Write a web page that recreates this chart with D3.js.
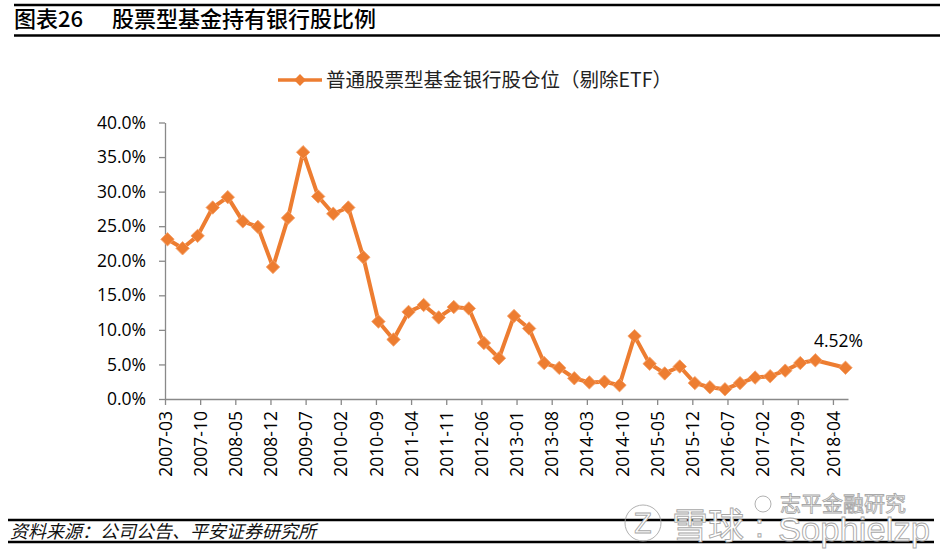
<!DOCTYPE html>
<html>
<head>
<meta charset="utf-8">
<script src="https://cdn.jsdelivr.net/npm/d3@7"></script>
<style>
  body { margin: 0; background: #fff; }
  svg { display: block; }
</style>
</head>
<body>
<div id="chart"></div>
<script>
// size of the page
var width = 952;
var height = 549;

// quarterly dates (2018-03 is missing in the source)
const quarters = [
  "2007-03", "2007-06", "2007-09", "2007-12",
  "2008-03", "2008-06", "2008-09", "2008-12",
  "2009-03", "2009-06", "2009-09", "2009-12",
  "2010-03", "2010-06", "2010-09", "2010-12",
  "2011-03", "2011-06", "2011-09", "2011-12",
  "2012-03", "2012-06", "2012-09", "2012-12",
  "2013-03", "2013-06", "2013-09", "2013-12",
  "2014-03", "2014-06", "2014-09", "2014-12",
  "2015-03", "2015-06", "2015-09", "2015-12",
  "2016-03", "2016-06", "2016-09", "2016-12",
  "2017-03", "2017-06", "2017-09", "2017-12",
  "2018-06"
];

// bank stock weight, percent
const shares = [
  23.1, 21.8, 23.6, 27.7,
  29.2, 25.7, 24.9, 19.1,
  26.2, 35.7, 29.3, 26.8,
  27.7, 20.5, 11.2, 8.6,
  12.6, 13.6, 11.8, 13.3,
  13.1, 8.1, 5.9, 12.0,
  10.2, 5.2, 4.5, 3.0,
  2.4, 2.5, 2.0, 9.1,
  5.1, 3.7, 4.7, 2.3,
  1.7, 1.4, 2.3, 3.1,
  3.3, 4.1, 5.2, 5.6,
  4.52
];

const xTickLabels = [
  "2007-03", "2007-10", "2008-05", "2008-12", "2009-07", "2010-02", "2010-09",
  "2011-04", "2011-11", "2012-06", "2013-01", "2013-08", "2014-03", "2014-10",
  "2015-05", "2015-12", "2016-07", "2017-02", "2017-09", "2018-04"
];
const yTicks = [0, 5, 10, 15, 20, 25, 30, 35, 40];

const seriesName = "普通股票型基金银行股仓位（剔除ETF）";
const lastLabel = "4.52%";

const orange = "#ED7D31";
const axisGrey = "#898989";
const numFont = "'Open Sans', 'Liberation Sans', sans-serif";
const cjkFont = "'Noto Sans CJK SC', sans-serif";

// months since 2007-03 (excel date axis, base unit month)
function monthIndex(s) {
  let parts = s.split("-");
  return (+parts[0] - 2007) * 12 + (+parts[1] - 3);
}

let data = quarters.map((q, i) => ({ date: q, value: shares[i] }));

let svg = d3.select("#chart")
  .append("svg")
  .attr("width", width)
  .attr("height", height);

// header and footer rules
svg.append("line").attr("x1", 14).attr("x2", 940).attr("y1", 5).attr("y2", 5)
  .attr("stroke", "#000").attr("stroke-width", 2.5);
svg.append("line").attr("x1", 14).attr("x2", 940).attr("y1", 35.5).attr("y2", 35.5)
  .attr("stroke", "#000").attr("stroke-width", 2.5);
svg.append("line").attr("x1", 8).attr("x2", 934).attr("y1", 520).attr("y2", 520)
  .attr("stroke", "#000").attr("stroke-width", 2.5);
svg.append("line").attr("x1", 8).attr("x2", 934).attr("y1", 542).attr("y2", 542)
  .attr("stroke", "#000").attr("stroke-width", 2.5);

// title
svg.append("text")
  .attr("x", 14).attr("y", 27)
  .style("font-family", cjkFont).style("font-size", "22px").style("font-weight", 500)
  .text("图表26");
svg.append("text")
  .attr("x", 112).attr("y", 27)
  .style("font-family", cjkFont).style("font-size", "22px").style("font-weight", 500)
  .text("股票型基金持有银行股比例");

// scales
let x = d3.scaleLinear().domain([0, 136]).range([165, 848]);
let y = d3.scaleLinear().domain([0, 40]).range([399, 122.5]);

// y axis
let yAxis = svg.append("g")
  .attr("transform", "translate(165,0)")
  .call(d3.axisLeft(y).tickValues(yTicks).tickSize(6).tickSizeOuter(0)
    .tickFormat(d => d.toFixed(1) + "%").tickPadding(13));
yAxis.select(".domain").attr("stroke", axisGrey).attr("stroke-width", 1.3);
yAxis.selectAll(".tick line").attr("stroke", axisGrey).attr("stroke-width", 1.3);
yAxis.selectAll("text")
  .style("font-family", numFont).style("font-size", "17.5px").attr("fill", "#000");

// x axis
let xAxis = svg.append("g")
  .attr("transform", "translate(0," + y(0) + ")")
  .call(d3.axisBottom(x).tickValues(xTickLabels.map(monthIndex)).tickSize(6).tickSizeOuter(0)
    .tickFormat((d, i) => xTickLabels[i]));
xAxis.select(".domain").attr("stroke", axisGrey).attr("stroke-width", 1.3);
xAxis.selectAll(".tick line").attr("stroke", axisGrey).attr("stroke-width", 1.3);
xAxis.selectAll("text")
  .attr("transform", "rotate(-90)")
  .attr("x", -12).attr("y", 0).attr("dy", "0.35em")
  .style("text-anchor", "end")
  .style("font-family", numFont).style("font-size", "17.5px").attr("fill", "#000");

// line
let line = d3.line()
  .x(d => x(monthIndex(d.date) + 0.5))
  .y(d => y(d.value));

svg.append("path")
  .datum(data)
  .attr("fill", "none")
  .attr("stroke", orange)
  .attr("stroke-width", 4)
  .attr("stroke-linejoin", "round")
  .attr("d", line);

// diamond markers
let diamond = d3.symbol().type(d3.symbolSquare).size(90);
svg.selectAll(".marker")
  .data(data)
  .enter()
  .append("path")
  .attr("class", "marker")
  .attr("d", diamond)
  .attr("transform", d => "translate(" + x(monthIndex(d.date) + 0.5) + "," + y(d.value) + ") rotate(45)")
  .attr("fill", orange)
  .attr("stroke", "#F4A06A")
  .attr("stroke-width", 0.8);

// label of last point
let last = data[data.length - 1];
svg.append("text")
  .attr("x", x(monthIndex(last.date) + 0.5) - 7)
  .attr("y", y(last.value) - 21)
  .attr("text-anchor", "middle")
  .style("font-family", numFont).style("font-size", "17.5px")
  .text(lastLabel);

// legend
svg.append("line").attr("x1", 278).attr("x2", 322).attr("y1", 80).attr("y2", 80)
  .attr("stroke", orange).attr("stroke-width", 3.5);
svg.append("path")
  .attr("d", d3.symbol().type(d3.symbolSquare).size(70))
  .attr("transform", "translate(300,80) rotate(45)")
  .attr("fill", orange);
svg.append("text")
  .attr("x", 326).attr("y", 87)
  .style("font-family", cjkFont).style("font-size", "19.5px")
  .attr("fill", "#222")
  .text(seriesName);

// source note
svg.append("text")
  .attr("x", 10).attr("y", 538)
  .style("font-family", cjkFont).style("font-size", "18px")
  .style("font-style", "italic")
  .attr("fill", "#111")
  .text("资料来源：公司公告、平安证券研究所");

// watermark
let wm = svg.append("g")
  .attr("fill", "#fff")
  .attr("stroke", "#a8a8a8")
  .attr("stroke-width", 0.9);
wm.append("circle").attr("cx", 643).attr("cy", 523).attr("r", 18).attr("fill", "none");
wm.append("text").attr("x", 643).attr("y", 533).attr("text-anchor", "middle")
  .style("font-family", "'DejaVu Sans', sans-serif").style("font-size", "26px").text("Z");
wm.append("text").attr("x", 672).attr("y", 539)
  .style("font-family", cjkFont).style("font-size", "36px").text("雪球");
wm.append("text").attr("x", 755).attr("y", 537)
  .style("font-family", "'Liberation Sans', sans-serif").style("font-size", "32px").text(":");
wm.append("text").attr("x", 778).attr("y", 541)
  .attr("textLength", 152).attr("lengthAdjust", "spacingAndGlyphs")
  .style("font-family", "'Liberation Sans', sans-serif").style("font-size", "34px").text("Sophielzp");
wm.append("circle").attr("cx", 763).attr("cy", 504).attr("r", 8).attr("fill", "none");
wm.append("text").attr("x", 780).attr("y", 511)
  .style("font-family", cjkFont).style("font-size", "21px").text("志平金融研究");
</script>
</body>
</html>
